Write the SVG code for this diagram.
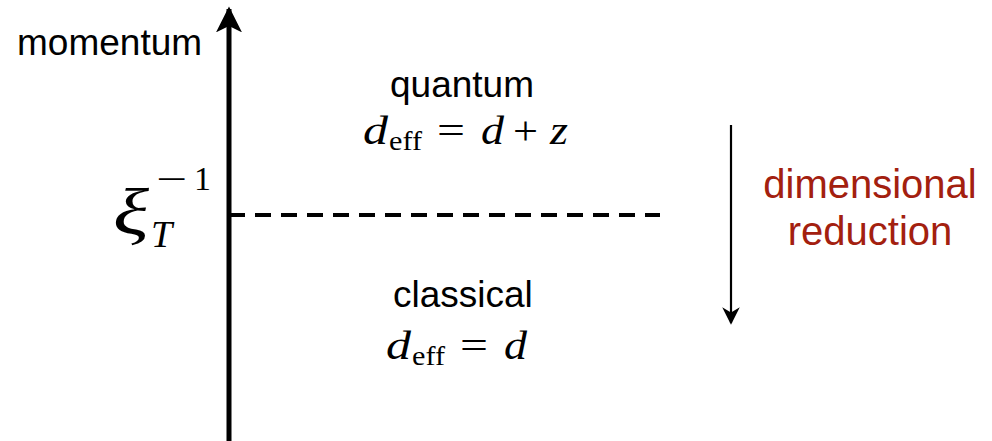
<svg xmlns="http://www.w3.org/2000/svg" width="992" height="441" viewBox="0 0 992 441">
<style>
.sans{font-family:"Liberation Sans",Arial,sans-serif;fill:#000}
.math{font-family:"Liberation Serif","Times New Roman",serif;fill:#000}
.it{font-style:italic}
.red{fill:#a3200f}
</style>
<defs>
<marker id="bigHead" viewBox="0 0 10 10" refX="9" refY="5" markerWidth="5.2" markerHeight="5.2" orient="auto" markerUnits="strokeWidth">
<path d="M0,0 L10,5 L0,10 L2.5,5 Z" fill="#000"/>
</marker>
<marker id="smallHead" viewBox="0 0 10 10" refX="9" refY="5" markerWidth="8" markerHeight="8" orient="auto" markerUnits="strokeWidth">
<path d="M0,0 L10,5 L0,10 L3,5 Z" fill="#000"/>
</marker>
</defs>
<rect width="992" height="441" fill="#fff"/>
<g id="connectors">
<line x1="229" y1="441" x2="229" y2="9" stroke="#000" stroke-width="5" marker-end="url(#bigHead)"/>
<line x1="229" y1="215" x2="660" y2="215" stroke="#000" stroke-width="4" stroke-dasharray="16,10"/>
<line x1="731" y1="125" x2="731" y2="323" stroke="#000" stroke-width="2.2" marker-end="url(#smallHead)"/>
</g>
<g id="axis-label"><text class="sans" x="17" y="55" font-size="37">momentum</text></g>
<g id="xi-label" class="math">
<text class="it" x="113" y="234" font-size="66" textLength="36" lengthAdjust="spacingAndGlyphs">ξ</text>
<text class="it" x="151" y="247" font-size="38">T</text>
<text x="156" y="191" font-size="36" textLength="31" lengthAdjust="spacingAndGlyphs">−</text>
<text x="194" y="190" font-size="34">1</text>
</g>
<g id="quantum">
<text class="sans" x="390" y="97" font-size="37">quantum</text>
<g class="math">
<text class="it" x="363" y="144" font-size="40" textLength="25" lengthAdjust="spacingAndGlyphs">d</text>
<text x="389" y="150" font-size="27" textLength="33" lengthAdjust="spacingAndGlyphs">eff</text>
<text x="437" y="144" font-size="40" textLength="28" lengthAdjust="spacingAndGlyphs">=</text>
<text class="it" x="481" y="144" font-size="40" textLength="23" lengthAdjust="spacingAndGlyphs">d</text>
<text x="513" y="144" font-size="40" textLength="25" lengthAdjust="spacingAndGlyphs">+</text>
<text class="it" x="550" y="144" font-size="40" textLength="18" lengthAdjust="spacingAndGlyphs">z</text>
</g>
</g>
<g id="classical">
<text class="sans" x="393" y="307" font-size="37">classical</text>
<g class="math">
<text class="it" x="386" y="359" font-size="40" textLength="25" lengthAdjust="spacingAndGlyphs">d</text>
<text x="412" y="365" font-size="27" textLength="33" lengthAdjust="spacingAndGlyphs">eff</text>
<text x="460" y="359" font-size="40" textLength="28" lengthAdjust="spacingAndGlyphs">=</text>
<text class="it" x="504" y="359" font-size="40" textLength="23" lengthAdjust="spacingAndGlyphs">d</text>
</g>
</g>
<g id="reduction">
<text class="sans red" x="870" y="198" font-size="40" text-anchor="middle">dimensional</text>
<text class="sans red" x="870" y="245" font-size="40" text-anchor="middle">reduction</text>
</g>
</svg>
